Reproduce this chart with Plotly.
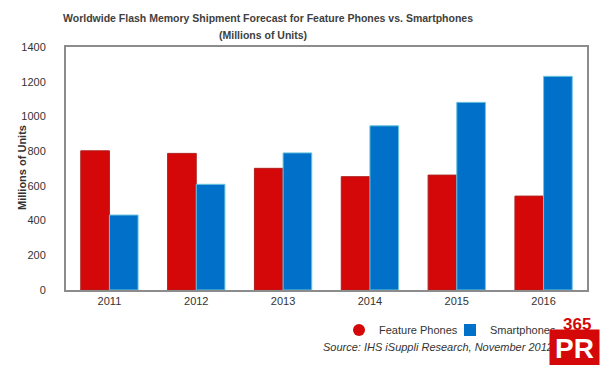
import plotly.graph_objects as go

years = ["2011", "2012", "2013", "2014", "2015", "2016"]
feature_phones = [802, 787, 701, 653, 662, 541]
smartphones = [432, 609, 790, 946, 1081, 1231]
y_ticks = [0, 200, 400, 600, 800, 1000, 1200, 1400]

W, H = 600, 365
L, R, T, B = 66, 13, 47, 75
PW, PH = W - L - R, H - T - B

def px(x):
    return (x - L) / PW

def py(y):
    return (H - B - y) / PH

FONT = "Arial, Liberation Sans, Helvetica, sans-serif"
RED = "#D40808"
BLUE = "#0070C8"

fig = go.Figure()
fig.add_trace(go.Bar(x=years, y=feature_phones, name="Feature Phones",
                     marker=dict(color=RED, line=dict(color="#B02020", width=1)),
                     showlegend=False))
fig.add_trace(go.Bar(x=years, y=smartphones, name="Smartphones",
                     marker=dict(color=BLUE, line=dict(color="#6CC4DC", width=1)),
                     showlegend=False))
# legend entries
fig.add_trace(go.Scatter(x=[None], y=[None], mode="markers", name="Feature Phones",
                         marker=dict(symbol="circle", color=RED, size=7)))
fig.add_trace(go.Scatter(x=[None], y=[None], mode="markers", name="Smartphones",
                         marker=dict(symbol="square", color=BLUE, size=6)))

fig.update_layout(
    width=W, height=H,
    margin=dict(l=L, r=R, t=T, b=B, pad=0, autoexpand=False),
    paper_bgcolor="white", plot_bgcolor="white",
    barmode="group", bargap=0.34, bargroupgap=0.0,
    font=dict(family=FONT, size=11, color="#333333"),
    showlegend=True,
    legend=dict(orientation="h", x=px(339), y=py(330), xanchor="left", yanchor="middle",
                font=dict(size=11, color="#333333"), entrywidth=66,
                bgcolor="rgba(0,0,0,0)", tracegroupgap=0,
                traceorder="normal", itemsizing="constant"),
    xaxis=dict(showline=True, linecolor="#8C8C8C", linewidth=2, mirror=True, automargin=False,
               ticks="", tickfont=dict(size=11, color="#333333"), showgrid=False),
    yaxis=dict(range=[0, 1400], tickvals=y_ticks, showline=True, linecolor="#8C8C8C",
               linewidth=2, mirror=True, ticks="", showgrid=False, zeroline=False,
               automargin=False,
               tickfont=dict(size=11, color="#333333"), ticklabelstandoff=16),
)

annotations = [
    dict(text="<b>Worldwide Flash Memory Shipment Forecast for Feature Phones vs. Smartphones</b>",
         x=px(268), y=py(18), font=dict(size=10.5, color="#404040")),
    dict(text="<b>(Millions of Units)</b>", x=px(263), y=py(35),
         font=dict(size=10.5, color="#404040")),
    dict(text="<b>Millions of Units</b>", x=px(22), y=py(168), textangle=-90,
         font=dict(size=11, color="#333333")),
    dict(text="<i>Source: IHS iSuppli Research, November 2012</i>", x=px(321), y=py(347),
         xanchor="left", font=dict(size=11, color="#333333")),
    # 365 PR logo
    dict(text="<b>365</b>", x=px(577), y=py(324), font=dict(size=17, color=RED),
         bgcolor="white"),
    dict(text="<b>PR</b>", x=px(600), y=py(348), xanchor="right", width=47, height=35,
         bgcolor=RED, font=dict(size=28, color="white"), align="center", valign="middle"),
]
for a in annotations:
    a.setdefault("xanchor", "center")
    a.update(xref="paper", yref="paper", yanchor="middle", showarrow=False)
fig.update_layout(annotations=annotations)

fig.write_html("out.html", config={"displayModeBar": False},
               post_script="document.body.style.margin='0';")
